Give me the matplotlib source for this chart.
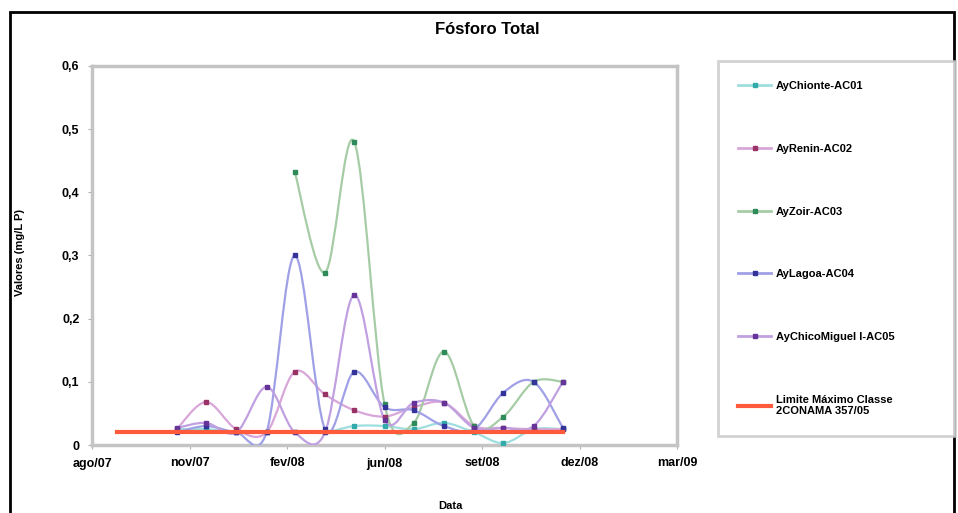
import numpy as np
import matplotlib
matplotlib.use("Agg")
import matplotlib.pyplot as plt
import matplotlib.dates as mdates
from matplotlib.path import Path
from matplotlib.patches import PathPatch, Rectangle
from matplotlib.lines import Line2D

plt.rcParams['font.family'] = ['Liberation Sans', 'DejaVu Sans']

# monthly sampling dates
sample_dates = ['2007-11-01', '2007-12-01', '2008-01-01', '2008-02-01', '2008-03-01',
                '2008-04-01', '2008-05-01', '2008-06-01', '2008-07-01', '2008-08-01',
                '2008-09-01', '2008-10-01', '2008-11-01', '2008-12-01']
limit_dates = ['2007-09-01', '2007-10-01'] + sample_dates

ac01 = [0.025, 0.025, 0.02, 0.02, 0.02, 0.02, 0.03, 0.03, 0.025, 0.035, 0.02, 0.003, 0.025, 0.025]
ac02 = [0.025, 0.068, 0.025, 0.02, 0.116, 0.08, 0.055, 0.045, 0.06, 0.067, 0.03, 0.027, 0.025, 0.025]
ac03 = [np.nan, np.nan, np.nan, np.nan, 0.432, 0.273, 0.48, 0.065, 0.035, 0.148, 0.03, 0.045, 0.1, 0.1]
ac04 = [0.02, 0.03, 0.02, 0.02, 0.30, 0.025, 0.116, 0.06, 0.055, 0.03, 0.025, 0.083, 0.1, 0.027]
ac05 = [0.027, 0.035, 0.02, 0.092, 0.02, 0.02, 0.238, 0.04, 0.067, 0.067, 0.027, 0.027, 0.03, 0.1]
limite = [0.02, 0.02, 0.02, 0.02, 0.02, 0.02, 0.02, 0.02, 0.02, 0.02, 0.02, 0.02, 0.02, 0.02, 0.02, 0.02]

series_names = ['AyChionte-AC01', 'AyRenin-AC02', 'AyZoir-AC03', 'AyLagoa-AC04',
                'AyChicoMiguel I-AC05']
limit_name = 'Limite Máximo Classe\n2CONAMA 357/05'

tick_dates = ['2007-08-06', '2007-11-14', '2008-02-22', '2008-06-01',
              '2008-09-09', '2008-12-18', '2009-03-28']
tick_labels = ['ago/07', 'nov/07', 'fev/08', 'jun/08', 'set/08', 'dez/08', 'mar/09']
y_ticks = [0, 0.1, 0.2, 0.3, 0.4, 0.5, 0.6]
y_labels = ['0', '0,1', '0,2', '0,3', '0,4', '0,5', '0,6']

line_colors = ['#9fdede', '#d9a6d9', '#a6cca6', '#a0a0e6', '#c0a0e0']
marker_colors = ['#33aaaa', '#993366', '#2f8a5a', '#333399', '#663399']
limit_color = '#ff5a3c'


def to_num(ds):
    return mdates.date2num(np.array(ds, dtype='datetime64[D]'))


def smooth_path(xs, ys):
    # Excel-like smoothed line: Bezier segments with Catmull-Rom tangents
    pts = np.column_stack([xs, ys])
    verts = [pts[0]]
    codes = [Path.MOVETO]
    n = len(pts)
    for i in range(n - 1):
        p0 = pts[i - 1] if i > 0 else pts[i]
        p1 = pts[i]
        p2 = pts[i + 1]
        p3 = pts[i + 2] if i + 2 < n else pts[i + 1]
        verts += [p1 + (p2 - p0) / 6, p2 - (p3 - p1) / 6, p2]
        codes += [Path.CURVE4] * 3
    return Path(verts, codes)


fig = plt.figure(figsize=(9.58, 5.13), dpi=100)
ax = fig.add_axes([92 / 958, 1 - 445 / 513, (677 - 92) / 958, (445 - 66) / 513])

x = to_num(sample_dates)
for vals, lc, mc in zip([ac01, ac02, ac03, ac04, ac05], line_colors, marker_colors):
    v = np.array(vals, dtype=float)
    ok = ~np.isnan(v)
    ax.add_patch(PathPatch(smooth_path(x[ok], v[ok]), facecolor='none',
                           edgecolor=lc, lw=1.6, zorder=3))
    ax.plot(x[ok], v[ok], ls='none', marker='s', ms=3, color=mc, zorder=4)

ax.plot(to_num(limit_dates), limite, color=limit_color, lw=3, zorder=5)

ax.set_xlim(to_num(tick_dates)[0], to_num(tick_dates)[-1])
ax.set_ylim(0, 0.6)
ax.set_xticks(to_num(tick_dates))
ax.set_xticklabels(tick_labels, fontsize=9, fontweight='bold')
ax.set_yticks(y_ticks)
ax.set_yticklabels(y_labels, fontsize=9, fontweight='bold')
ax.tick_params(length=3, color='#b0b0b0', pad=6)
for sp in ax.spines.values():
    sp.set_color('#c4c4c4')
    sp.set_linewidth(2.5)

fig.text(487 / 958, 1 - 30 / 513, 'Fósforo Total', ha='center', va='center',
         fontsize=12, fontweight='bold')
fig.text(20 / 958, 1 - 252 / 513, 'Valores (mg/L P)', ha='center', va='center',
         rotation=90, fontsize=8, fontweight='bold')
fig.text(450 / 958, 1 - 506 / 513, 'Data', ha='center', va='center',
         fontsize=8, fontweight='bold')

handles = [Line2D([], [], color=lc, lw=2, marker='s', ms=3, mfc=mc, mec=mc)
           for lc, mc in zip(line_colors, marker_colors)]
handles.append(Line2D([], [], color=limit_color, lw=3))
leg = fig.legend(handles, series_names + [limit_name], loc='upper left',
                 bbox_to_anchor=(718 / 958, 1 - 61 / 513, (955 - 718) / 958, 0),
                 mode='expand', borderaxespad=0, prop={'size': 8, 'weight': 'bold'},
                 labelspacing=4.75, handlelength=3.0, handletextpad=0.4,
                 borderpad=1.8, fancybox=False, numpoints=1)
leg.get_frame().set_edgecolor('#c8c8c8')
leg.get_frame().set_linewidth(2)

# outer chart border
fig.add_artist(Rectangle((10 / 958, -0.05), 944 / 958, 1.05 - 12 / 513,
                         transform=fig.transFigure, fill=False,
                         edgecolor='black', lw=2, clip_on=False))

fig.savefig('out.png', dpi=100)
